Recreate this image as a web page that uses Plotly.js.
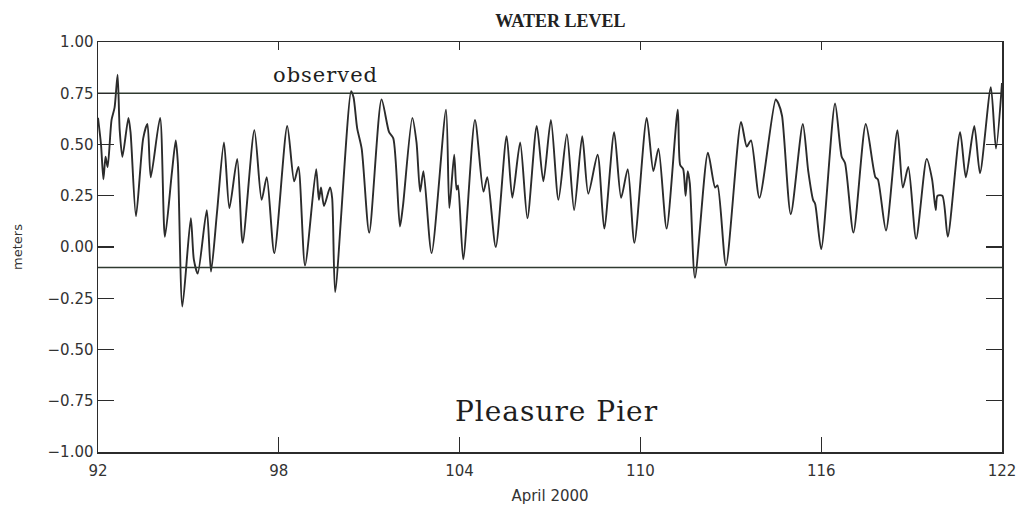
<!DOCTYPE html>
<html>
<head>
<meta charset="utf-8">
<script src="https://cdn.plot.ly/plotly-3.0.1.min.js"></script>
<style>
  html, body { margin: 0; padding: 0; background: #fff; }
  #chart { width: 1019px; height: 508px; }
  .annotation-text { letter-spacing: 1px; }
</style>
</head>
<body>
<div id="chart"></div>
<script>
// Day of year (April 2000) and observed water level in meters
const dayOfYear = [
  92.00, 92.10, 92.18, 92.25, 92.32, 92.45, 92.55, 92.65, 92.72, 92.81,
  93.01, 93.08, 93.26, 93.50, 93.64, 93.75, 94.06, 94.22, 94.45, 94.58,
  94.65, 94.80, 95.08, 95.18, 95.31, 95.61, 95.75, 95.95, 96.18, 96.36,
  96.62, 96.80, 97.19, 97.43, 97.60, 97.85, 98.28, 98.51, 98.65, 98.87,
  99.24, 99.33, 99.40, 99.50, 99.70, 99.77, 99.87, 100.40, 100.48, 100.60,
  100.75, 101.00, 101.41, 101.66, 101.80, 102.02, 102.12, 102.43, 102.57, 102.69,
  102.80, 103.07, 103.55, 103.66, 103.82, 103.90, 103.95, 104.12, 104.51, 104.79,
  104.92, 105.20, 105.56, 105.75, 106.01, 106.25, 106.56, 106.78, 107.03, 107.28,
  107.56, 107.80, 108.07, 108.27, 108.58, 108.80, 109.13, 109.36, 109.58, 109.80,
  110.21, 110.43, 110.60, 110.87, 111.24, 111.32, 111.42, 111.50, 111.57, 111.64,
  111.81, 112.24, 112.48, 112.56, 112.84, 113.34, 113.53, 113.67, 113.95, 114.49,
  114.58, 114.70, 114.99, 115.39, 115.57, 115.73, 115.80, 116.00, 116.46, 116.68,
  116.79, 117.07, 117.48, 117.80, 117.88, 118.15, 118.53, 118.71, 118.89, 119.15,
  119.50, 119.68, 119.80, 119.86, 120.02, 120.20, 120.61, 120.80, 121.08, 121.27,
  121.63, 121.80, 122.00
];
const observed = [
  0.63, 0.50, 0.33, 0.44, 0.39, 0.62, 0.68, 0.84, 0.57, 0.44,
  0.63, 0.56, 0.15, 0.53, 0.60, 0.34, 0.63, 0.05, 0.36, 0.52,
  0.41, -0.29, 0.14, -0.06, -0.13, 0.18, -0.12, 0.17, 0.51, 0.19,
  0.43, 0.02, 0.57, 0.23, 0.34, -0.03, 0.59, 0.32, 0.39, -0.09,
  0.38, 0.23, 0.29, 0.20, 0.29, 0.24, -0.22, 0.76, 0.73, 0.58,
  0.48, 0.07, 0.72, 0.56, 0.53, 0.10, 0.20, 0.63, 0.51, 0.27,
  0.37, -0.03, 0.67, 0.19, 0.45, 0.28, 0.30, -0.06, 0.62, 0.27,
  0.34, 0.00, 0.54, 0.24, 0.51, 0.14, 0.59, 0.32, 0.62, 0.23,
  0.55, 0.18, 0.54, 0.26, 0.45, 0.09, 0.56, 0.24, 0.38, 0.02,
  0.63, 0.37, 0.48, 0.09, 0.67, 0.40, 0.38, 0.25, 0.37, 0.31,
  -0.15, 0.46, 0.29, 0.30, -0.09, 0.61, 0.49, 0.52, 0.24, 0.72,
  0.70, 0.64, 0.16, 0.60, 0.37, 0.23, 0.21, -0.01, 0.70, 0.44,
  0.41, 0.07, 0.60, 0.34, 0.33, 0.08, 0.57, 0.29, 0.39, 0.04,
  0.43, 0.33, 0.18, 0.25, 0.25, 0.05, 0.56, 0.34, 0.59, 0.36,
  0.78, 0.48, 0.80
];
// Horizontal reference levels (meters)
const datumLevels = [0.75, -0.10];
const xTickVals = [92, 98, 104, 110, 116, 122];
const xRange = [92, 122];
const yRange = [-1, 1];

const ink = '#2b2b2b';

const traces = [{
  x: dayOfYear,
  y: observed,
  type: 'scatter',
  mode: 'lines',
  line: { color: ink, width: 1.9, shape: 'spline', smoothing: 0.7 },
  hoverinfo: 'x+y',
  showlegend: false
}];
datumLevels.forEach(lv => {
  traces.push({
    x: xRange,
    y: [lv, lv],
    xaxis: 'x2',
    type: 'scatter',
    mode: 'lines',
    line: { color: '#2f3a30', width: 1.4 },
    hoverinfo: 'skip',
    showlegend: false
  });
});

const tickFont = { family: 'DejaVu Sans', size: 15, color: '#333' };

const layout = {
  width: 1019,
  height: 508,
  margin: { l: 98, r: 17, t: 42, b: 56 },
  paper_bgcolor: '#fff',
  plot_bgcolor: '#fff',
  title: {
    text: 'WATER LEVEL',
    font: { family: 'Liberation Serif', size: 18, color: '#222', weight: 'bold' },
    x: 0.55, xref: 'container', xanchor: 'center',
    y: 0.96, yref: 'container', yanchor: 'middle'
  },
  xaxis: {
    range: xRange,
    tickmode: 'array',
    tickvals: xTickVals,
    ticks: 'inside',
    ticklen: 15,
    tickwidth: 1.2,
    tickcolor: ink,
    ticklabelstandoff: 4,
    showgrid: false,
    zeroline: false,
    showline: true,
    linecolor: ink,
    linewidth: 1.5,
    mirror: true,
    tickfont: tickFont,
    title: { text: 'April 2000', font: { family: 'DejaVu Sans', size: 15, color: '#333' }, standoff: 12 }
  },
  xaxis2: {
    range: xRange,
    overlaying: 'x',
    side: 'top',
    anchor: 'y',
    tickmode: 'array',
    tickvals: xTickVals,
    ticks: 'inside',
    ticklen: 8,
    tickwidth: 1.2,
    tickcolor: ink,
    showticklabels: false,
    showgrid: false,
    zeroline: false,
    showline: false
  },
  yaxis: {
    range: yRange,
    dtick: 0.25,
    tick0: -1,
    tickformat: '.2f',
    ticks: 'inside',
    ticklen: 16,
    tickwidth: 1.2,
    tickcolor: ink,
    showgrid: false,
    zeroline: false,
    showline: true,
    linecolor: ink,
    linewidth: 1.5,
    mirror: 'ticks',
    tickfont: tickFont,
    title: { text: 'meters', font: { family: 'DejaVu Sans', size: 13, color: '#333' }, standoff: 22 }
  },
  annotations: [
    {
      text: 'observed', x: 99.55, y: 0.84, xref: 'x', yref: 'y',
      showarrow: false,
      font: { family: 'DejaVu Serif', size: 21, color: '#1e1e1e' }
    },
    {
      text: 'Pleasure Pier', x: 107.2, y: -0.80, xref: 'x', yref: 'y',
      showarrow: false,
      font: { family: 'DejaVu Serif', size: 28, color: '#1e1e1e' }
    }
  ]
};

Plotly.newPlot('chart', traces, layout, { displayModeBar: false, staticPlot: true });
</script>
</body>
</html>
